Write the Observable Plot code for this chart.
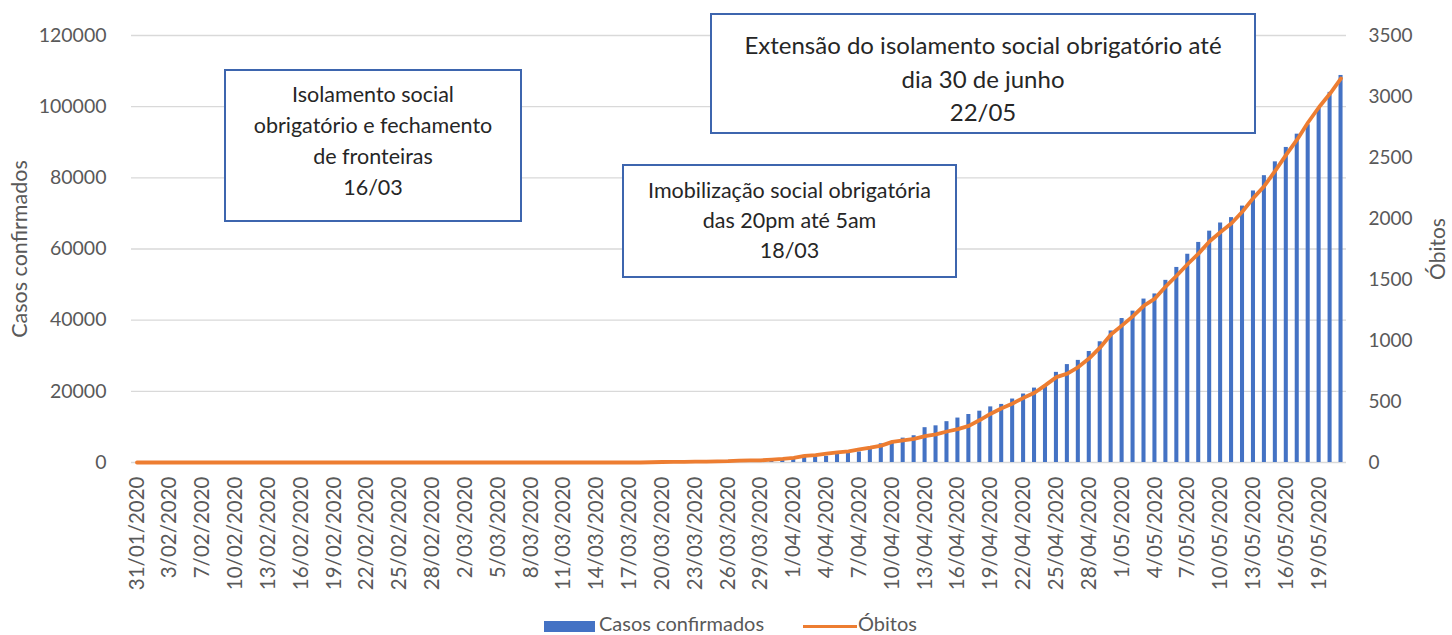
<!DOCTYPE html>
<html>
<head>
<meta charset="utf-8">
<script src="https://cdn.jsdelivr.net/npm/d3@7"></script>
<script src="https://cdn.jsdelivr.net/npm/@observablehq/plot@0.6"></script>
<style>
  html, body { margin: 0; padding: 0; background: #ffffff; }
  #wrap { position: relative; width: 1452px; height: 635px; overflow: hidden; font-family: Lato, sans-serif; }
  #chart { position: absolute; left: 0; top: 0; }
  .box { position: absolute; background: #ffffff; border: 2px solid #3d65ae; box-sizing: border-box;
         text-align: center; color: #262626; font-family: Lato, sans-serif; white-space: nowrap; }
  .leg { position: absolute; font-family: Lato, sans-serif; color: #595959; font-size: 20px; line-height: 20px; }
</style>
</head>
<body>
<div id="wrap">
  <div id="chart"></div>
  <div class="box" style="left:224px;top:69px;width:298px;height:153px;padding-top:8px;font-size:21.5px;line-height:31px;">Isolamento social<br>obrigatório e fechamento<br>de fronteiras<br>16/03</div>
  <div class="box" style="left:622px;top:164px;width:335px;height:114px;padding-top:9px;font-size:21.5px;line-height:30px;">Imobilização social obrigatória<br>das 20pm até 5am<br>18/03</div>
  <div class="box" style="left:710px;top:13px;width:546px;height:121px;padding-top:13px;font-size:24px;line-height:33.5px;">Extensão do isolamento social obrigatório até<br>dia 30 de junho<br>22/05</div>
  <div class="leg" style="left:544px;top:621px;width:51px;height:11px;background:#4472c4;"></div>
  <div class="leg" style="left:599px;top:613px;">Casos confirmados</div>
  <div class="leg" style="left:803px;top:625px;width:54px;height:3px;background:#ed7d31;"></div>
  <div class="leg" style="left:858px;top:613px;">Óbitos</div>
</div>
<script>
const dates = [
  "31/01/2020","1/02/2020","2/02/2020","3/02/2020","4/02/2020","5/02/2020",
  "7/02/2020","8/02/2020","9/02/2020","10/02/2020","11/02/2020","12/02/2020","13/02/2020","14/02/2020","15/02/2020","16/02/2020","17/02/2020","18/02/2020","19/02/2020","20/02/2020","21/02/2020","22/02/2020","23/02/2020","24/02/2020","25/02/2020","26/02/2020","27/02/2020","28/02/2020","29/02/2020",
  "1/03/2020","2/03/2020","3/03/2020","4/03/2020","5/03/2020","6/03/2020","7/03/2020","8/03/2020","9/03/2020","10/03/2020","11/03/2020","12/03/2020","13/03/2020","14/03/2020","15/03/2020","16/03/2020","17/03/2020","18/03/2020","19/03/2020","20/03/2020","21/03/2020","22/03/2020","23/03/2020","24/03/2020","25/03/2020","26/03/2020","27/03/2020","28/03/2020","29/03/2020","30/03/2020","31/03/2020",
  "1/04/2020","2/04/2020","3/04/2020","4/04/2020","5/04/2020","6/04/2020","7/04/2020","8/04/2020","9/04/2020","10/04/2020","11/04/2020","12/04/2020","13/04/2020","14/04/2020","15/04/2020","16/04/2020","17/04/2020","18/04/2020","19/04/2020","20/04/2020","21/04/2020","22/04/2020","23/04/2020","24/04/2020","25/04/2020","26/04/2020","27/04/2020","28/04/2020","29/04/2020","30/04/2020",
  "1/05/2020","2/05/2020","3/05/2020","4/05/2020","5/05/2020","6/05/2020","7/05/2020","8/05/2020","9/05/2020","10/05/2020","11/05/2020","12/05/2020","13/05/2020","14/05/2020","15/05/2020","16/05/2020","17/05/2020","18/05/2020","19/05/2020","20/05/2020","21/05/2020"
];

const cases = [
  0,0,0,0,0,0,
  0,0,0,0,0,0,0,0,0,0,0,0,0,0,0,0,0,0,0,0,0,0,0,
  0,0,0,0,0,1,6,7,9,11,17,22,38,43,71,86,117,145,234,263,318,363,395,416,480,580,635,671,852,950,1065,
  1323,1414,1595,1746,2281,2561,2954,4342,5256,5897,6848,7519,9784,10303,11475,12491,13489,14420,15628,16325,17837,19250,20914,21648,25331,27517,28699,31190,33931,36976,
  40459,42534,45928,47372,51189,54817,58526,61847,65015,67307,68822,72059,76306,80604,84495,88541,92273,94933,99483,104020,108769
];

const deaths = [
  0,0,0,0,0,0,
  0,0,0,0,0,0,0,0,0,0,0,0,0,0,0,0,0,0,0,0,0,0,0,
  0,0,0,0,0,0,0,0,0,0,0,0,0,0,0,0,0,0,2,4,5,5,7,7,9,11,16,18,18,24,30,
  38,55,61,73,83,92,107,121,138,169,181,193,216,230,254,274,300,348,400,445,484,530,572,634,700,728,782,854,943,1051,
  1124,1200,1286,1344,1444,1533,1627,1714,1814,1889,1961,2057,2169,2267,2392,2523,2648,2789,2914,3024,3148
];

const leftTicks = [0, 20000, 40000, 60000, 80000, 100000, 120000];
const rightTicks = [0, 500, 1000, 1500, 2000, 2500, 3000, 3500];
const leftMax = 120000;
const rightMax = 3500;

const k = leftMax / rightMax;
const labelDates = dates.filter((d, i) => i % 3 === 0);
const rows = dates.map((d, i) => ({date: d, cases: cases[i], deaths: deaths[i]}));

const chart = Plot.plot({
  width: 1452,
  height: 612,
  marginTop: 35,
  marginBottom: 150,
  marginLeft: 131,
  marginRight: 106,
  style: {fontFamily: "Lato, sans-serif", fontSize: "19px", color: "#595959", background: "transparent", overflow: "visible"},
  x: {type: "band", domain: dates, paddingInner: 0.63, paddingOuter: 0.315},
  y: {domain: [0, leftMax]},
  marks: [
    Plot.gridY(leftTicks, {stroke: "#d9d9d9", strokeOpacity: 1, strokeWidth: 1.3}),
    Plot.barY(rows, {x: "date", y: "cases", fill: "#4472c4"}),
    Plot.line(rows, {x: "date", y: d => d.deaths * k, stroke: "#ed7d31", strokeWidth: 3.8}),
    Plot.axisY(leftTicks, {anchor: "left", tickSize: 0, tickPadding: 25, fontSize: 19.5, label: null, tickFormat: d => String(d)}),
    Plot.axisY(rightTicks.map(v => v * k), {anchor: "right", tickSize: 0, tickPadding: 22, fontSize: 19, label: null, tickFormat: v => String(Math.round(v / k))}),
    Plot.axisX(labelDates, {tickSize: 0, tickPadding: 14, tickRotate: -90, fontSize: 20.5, label: null}),
    Plot.text(["Casos confirmados"], {frameAnchor: "left", dx: -111, rotate: -90, textAnchor: "middle", fontSize: 21.5, fill: "#595959"}),
    Plot.text(["Óbitos"], {frameAnchor: "right", dx: 92, rotate: -90, textAnchor: "middle", fontSize: 21, fill: "#595959"})
  ]
});
document.getElementById("chart").appendChild(chart);
</script>
</body>
</html>
